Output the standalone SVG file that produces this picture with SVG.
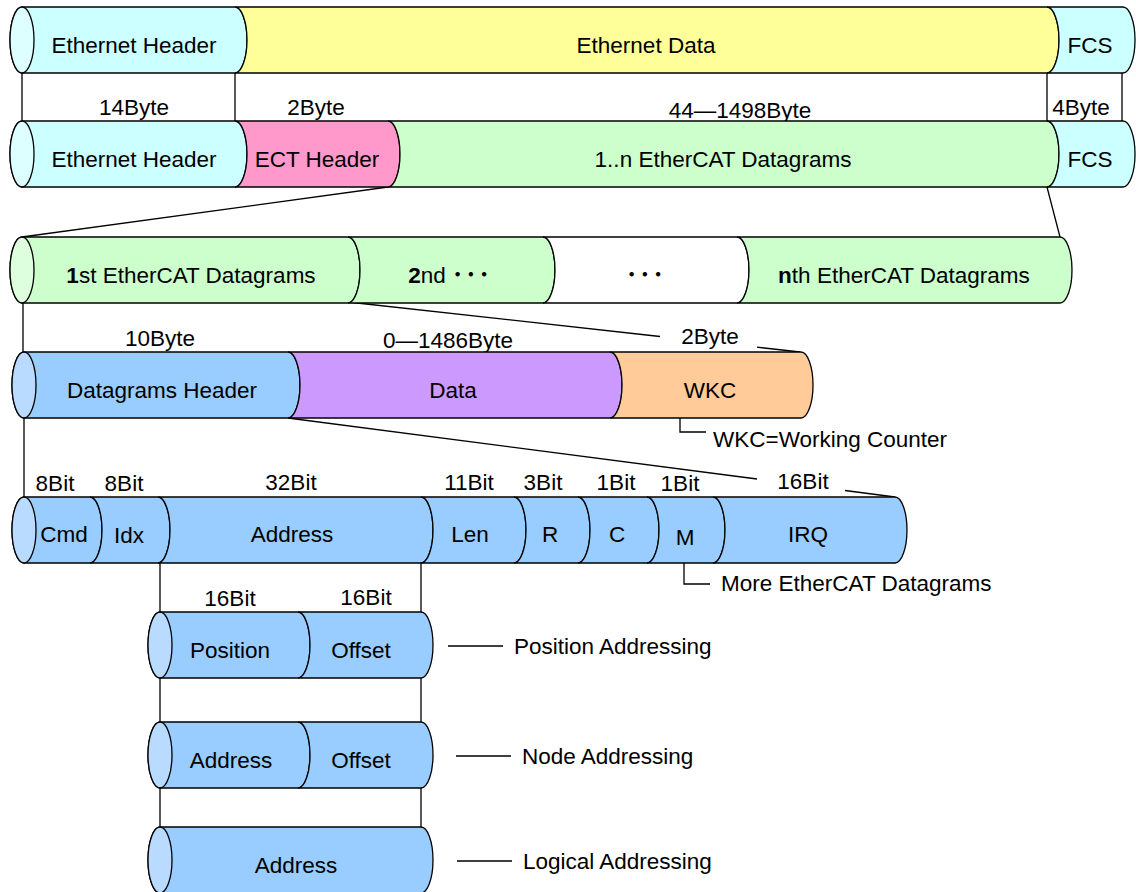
<svg xmlns="http://www.w3.org/2000/svg" width="1136" height="892" viewBox="0 0 1136 892">
<style>
.s{stroke:#000;stroke-width:1.3;}
.cy{fill:#CCFFFF}.cyc{fill:#DDFFFF}
.ye{fill:#FFFF99}.pk{fill:#FF99CC}
.gr{fill:#CCFFCC}.grc{fill:#DDFFDD}
.wh{fill:#FFFFFF}
.bl{fill:#99CCFF}.blc{fill:#B8DBFF}
.pu{fill:#CC99FF}.or{fill:#FFCC99}
text{font-family:"Liberation Sans",Arial,"Noto Sans CJK JP",sans-serif;font-size:22.5px;fill:#000}
.m{text-anchor:middle}
.dots{font-weight:bold;letter-spacing:2px}
.ln{stroke:#000;stroke-width:1.3;fill:none}
</style>
<rect width="1136" height="892" fill="#fff"/>
<g id="connectors">
<path class="ln" d="M22,73V121M235,73V121M1047,73V121M1122,73V121"/>
<path class="ln" d="M388,187L22,237M1047,187L1060,237"/>
<path class="ln" d="M23,302V352"/>
<path class="ln" d="M348,302L660,336.5M757,347.2L800,352"/>
<path class="ln" d="M24,418V497"/>
<path class="ln" d="M288,418L757,479M845,490.5L895,497"/>
<path class="ln" d="M680,418V432H706"/>
<path class="ln" d="M684,563V584H710"/>
<path class="ln" d="M160,563V612M421,563V612M160,678V722M421,678V722M160,788V827M421,788V827"/>
<path class="ln" d="M448,646H503M456,756H511M457,861H512"/>
</g>
<g id="row1">
<g id="r1-eth-header"><path class="s cy" d="M22,7H235A12,33 0 0 1 235,73H22A12,33 0 0 1 22,7Z"/><ellipse class="s cyc" cx="22" cy="40" rx="12" ry="33"/><text class="m" x="134" y="53">Ethernet Header</text></g>
<g id="r1-eth-data"><path class="s ye" d="M235,7H1047A12,33 0 0 1 1047,73H235A12,33 0 0 0 235,7Z"/><text class="m" x="646" y="53">Ethernet Data</text></g>
<g id="r1-fcs"><path class="s cy" d="M1047,7H1123A12,33 0 0 1 1123,73H1047A12,33 0 0 0 1047,7Z"/><text class="m" x="1090" y="53">FCS</text></g>
</g>
<g id="sizes1">
<text class="m" x="134" y="115">14Byte</text>
<text class="m" x="316" y="115">2Byte</text>
<text class="m" x="740" y="118">44—1498Byte</text>
<text class="m" x="1081" y="115">4Byte</text>
</g>
<g id="row2">
<g id="r2-eth-header"><path class="s cy" d="M22,121H235A12,33 0 0 1 235,187H22A12,33 0 0 1 22,121Z"/><ellipse class="s cyc" cx="22" cy="154" rx="12" ry="33"/><text class="m" x="134" y="167">Ethernet Header</text></g>
<g id="r2-ect-header"><path class="s pk" d="M235,121H388A12,33 0 0 1 388,187H235A12,33 0 0 0 235,121Z"/><text class="m" x="317" y="167">ECT Header</text></g>
<g id="r2-datagrams"><path class="s gr" d="M388,121H1047A12,33 0 0 1 1047,187H388A12,33 0 0 0 388,121Z"/><text class="m" x="723" y="167">1..n EtherCAT Datagrams</text></g>
<g id="r2-fcs"><path class="s cy" d="M1047,121H1123A12,33 0 0 1 1123,187H1047A12,33 0 0 0 1047,121Z"/><text class="m" x="1090" y="167">FCS</text></g>
</g>
<g id="row3">
<g id="r3-1st"><path class="s gr" d="M22,237H348A12,33 0 0 1 348,303H22A12,33 0 0 1 22,237Z"/><ellipse class="s grc" cx="22" cy="270" rx="12" ry="33"/><text class="m" x="191" y="283"><tspan font-weight="bold">1</tspan>st EtherCAT Datagrams</text></g>
<g id="r3-2nd"><path class="s gr" d="M348,237H543A12,33 0 0 1 543,303H348A12,33 0 0 0 348,237Z"/><text class="m" x="450" y="283"><tspan font-weight="bold">2</tspan>nd <tspan class="dots">･･･</tspan></text></g>
<g id="r3-dots"><path class="s wh" d="M543,237H737A12,33 0 0 1 737,303H543A12,33 0 0 0 543,237Z"/><text class="m dots" x="646" y="283">･･･</text></g>
<g id="r3-nth"><path class="s gr" d="M737,237H1060A12,33 0 0 1 1060,303H737A12,33 0 0 0 737,237Z"/><text class="m" x="904" y="283"><tspan font-weight="bold">n</tspan>th EtherCAT Datagrams</text></g>
</g>
<g id="sizes4">
<text class="m" x="160" y="346">10Byte</text>
<text class="m" x="448" y="348">0—1486Byte</text>
<text class="m" x="710" y="344">2Byte</text>
</g>
<g id="row4">
<g id="r4-header"><path class="s bl" d="M24,352H288A12,33 0 0 1 288,418H24A12,33 0 0 1 24,352Z"/><ellipse class="s blc" cx="24" cy="385" rx="12" ry="33"/><text class="m" x="162" y="398">Datagrams Header</text></g>
<g id="r4-data"><path class="s pu" d="M288,352H610A12,33 0 0 1 610,418H288A12,33 0 0 0 288,352Z"/><text class="m" x="453" y="398">Data</text></g>
<g id="r4-wkc"><path class="s or" d="M610,352H801A12,33 0 0 1 801,418H610A12,33 0 0 0 610,352Z"/><text class="m" x="710" y="398">WKC</text></g>
</g>
<text id="wkc-note" x="713" y="447">WKC=Working Counter</text>
<g id="sizes5">
<text class="m" x="55" y="491">8Bit</text>
<text class="m" x="124" y="491">8Bit</text>
<text class="m" x="291" y="490">32Bit</text>
<text class="m" x="469" y="490">11Bit</text>
<text class="m" x="543" y="490">3Bit</text>
<text class="m" x="616" y="490">1Bit</text>
<text class="m" x="680" y="491">1Bit</text>
<text class="m" x="803" y="489">16Bit</text>
</g>
<g id="row5">
<g id="r5-cmd"><path class="s bl" d="M24,497H90A12,33 0 0 1 90,563H24A12,33 0 0 1 24,497Z"/><ellipse class="s blc" cx="24" cy="530" rx="12" ry="33"/><text class="m" x="64" y="542">Cmd</text></g>
<g id="r5-idx"><path class="s bl" d="M90,497H158A12,33 0 0 1 158,563H90A12,33 0 0 0 90,497Z"/><text class="m" x="129" y="543">Idx</text></g>
<g id="r5-address"><path class="s bl" d="M158,497H421A12,33 0 0 1 421,563H158A12,33 0 0 0 158,497Z"/><text class="m" x="292" y="542">Address</text></g>
<g id="r5-len"><path class="s bl" d="M421,497H514A12,33 0 0 1 514,563H421A12,33 0 0 0 421,497Z"/><text class="m" x="470" y="542">Len</text></g>
<g id="r5-r"><path class="s bl" d="M514,497H578A12,33 0 0 1 578,563H514A12,33 0 0 0 514,497Z"/><text class="m" x="550" y="542">R</text></g>
<g id="r5-c"><path class="s bl" d="M578,497H647A12,33 0 0 1 647,563H578A12,33 0 0 0 578,497Z"/><text class="m" x="617" y="542">C</text></g>
<g id="r5-m"><path class="s bl" d="M647,497H713A12,33 0 0 1 713,563H647A12,33 0 0 0 647,497Z"/><text class="m" x="685" y="545">M</text></g>
<g id="r5-irq"><path class="s bl" d="M713,497H895A12,33 0 0 1 895,563H713A12,33 0 0 0 713,497Z"/><text class="m" x="808" y="542">IRQ</text></g>
</g>
<text id="m-note" x="721" y="591">More EtherCAT Datagrams</text>
<g id="sizes6">
<text class="m" x="230" y="606">16Bit</text>
<text class="m" x="366" y="605">16Bit</text>
</g>
<g id="row6">
<g id="r6-position"><path class="s bl" d="M160,612H298A12,33 0 0 1 298,678H160A12,33 0 0 1 160,612Z"/><ellipse class="s blc" cx="160" cy="645" rx="12" ry="33"/><text class="m" x="230" y="658">Position</text></g>
<g id="r6-offset"><path class="s bl" d="M298,612H421A12,33 0 0 1 421,678H298A12,33 0 0 0 298,612Z"/><text class="m" x="361" y="658">Offset</text></g>
</g>
<text id="pos-note" x="514" y="654">Position Addressing</text>
<g id="row7">
<g id="r7-address"><path class="s bl" d="M160,722H298A12,33 0 0 1 298,788H160A12,33 0 0 1 160,722Z"/><ellipse class="s blc" cx="160" cy="755" rx="12" ry="33"/><text class="m" x="231" y="768">Address</text></g>
<g id="r7-offset"><path class="s bl" d="M298,722H421A12,33 0 0 1 421,788H298A12,33 0 0 0 298,722Z"/><text class="m" x="361" y="768">Offset</text></g>
</g>
<text id="node-note" x="522" y="764">Node Addressing</text>
<g id="row8">
<g id="r8-address"><path class="s bl" d="M160,827H421A12,33 0 0 1 421,893H160A12,33 0 0 1 160,827Z"/><ellipse class="s blc" cx="160" cy="860" rx="12" ry="33"/><text class="m" x="296" y="873">Address</text></g>
</g>
<text id="log-note" x="523" y="869">Logical Addressing</text>
</svg>
